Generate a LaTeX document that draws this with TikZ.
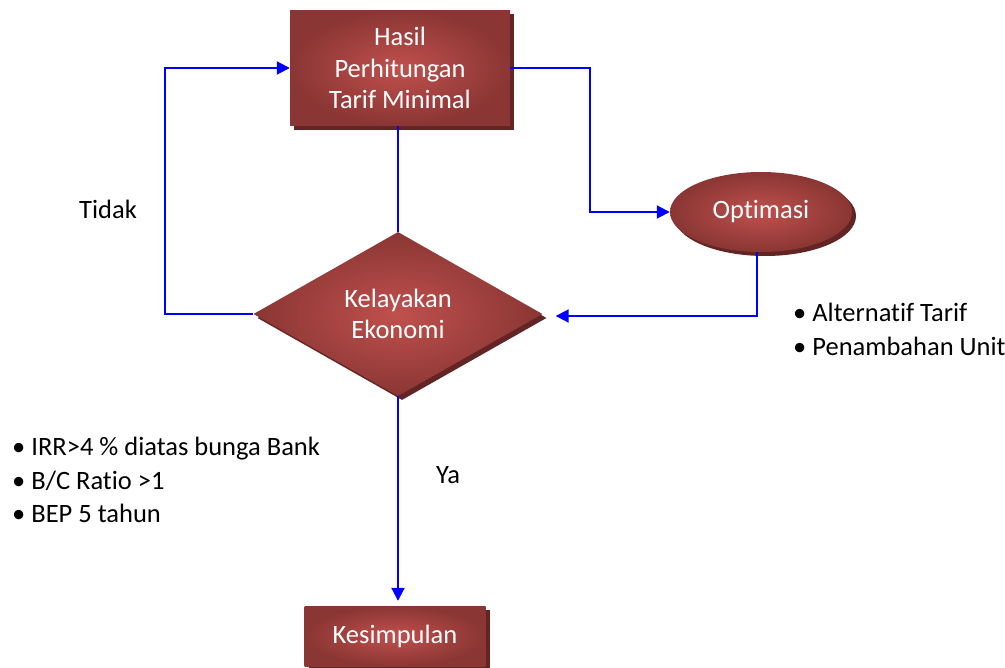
\documentclass[tikz,border=0pt]{standalone}
\usepackage{fontspec}
\setmainfont{Carlito}[Ligatures=CommonOff]
\usetikzlibrary{shapes.geometric,arrows.meta,shadows}

\definecolor{merahterang}{RGB}{192,80,77}
\definecolor{merahgelap}{RGB}{138,54,52}
\definecolor{merahbayang}{RGB}{99,37,35}

\tikzset{
  blok/.style={shade, inner color=merahterang, outer color=merahgelap,
    text=white, align=center, font=\fontsize{26.6}{31.5}\selectfont,
    drop shadow={shadow xshift=4bp, shadow yshift=-4bp, fill=merahbayang, opacity=1}},
  alur/.style={draw=blue, line width=2bp},
  panah/.style={alur, -{Triangle[length=13bp,width=13bp]}},
  teks/.style={font=\fontsize{26.6}{34}\selectfont, align=left, inner sep=0pt}
}

\begin{document}
\begin{tikzpicture}[x=1bp,y=-1bp]
\useasboundingbox (0,0) rectangle (1005,668);

\node[blok, minimum width=220bp, minimum height=115bp] (hasil) at (400,68) {Hasil\\Perhitungan\\Tarif Minimal};
\node[blok, diamond, minimum width=289bp, minimum height=164bp, inner sep=1bp] (layak) at (398,314) {Kelayakan\\Ekonomi};
\node[blok, ellipse, minimum width=182bp, minimum height=80bp] (opt) at (761,212) {Optimasi};
\node[blok, minimum width=181bp, minimum height=60bp] (simpul) at (395,636) {Kesimpulan};

\draw[alur] (layak.north |- hasil.south) -- (layak.north);
\draw[panah] (layak.west) -- ++(-88,0) |- (hasil.west);
\draw[panah] (hasil.east) -- ++(80,0) |- (opt.west);
\draw[panah] ([xshift=-4bp]opt.south) |- ([xshift=13bp,yshift=-2bp]layak.east);
\draw[panah, shorten >=5bp] (layak.south) -- (layak.south |- simpul.north);

% keterangan
\node[font=\fontsize{26.6}{31.5}\selectfont] (tidak) at (108,209) {Tidak};
\node[font=\fontsize{26.6}{31.5}\selectfont] (ya) at (448,475) {Ya};
\node[teks, anchor=west] (syarat) at (12,480) {\textbullet\ IRR>4 \% diatas bunga Bank\\\textbullet\ B/C Ratio >1\\\textbullet\ BEP 5 tahun};
\node[teks, anchor=west] (pilihan) at (793,329) {\textbullet\ Alternatif Tarif\\\textbullet\ Penambahan Unit};
\end{tikzpicture}
\end{document}
